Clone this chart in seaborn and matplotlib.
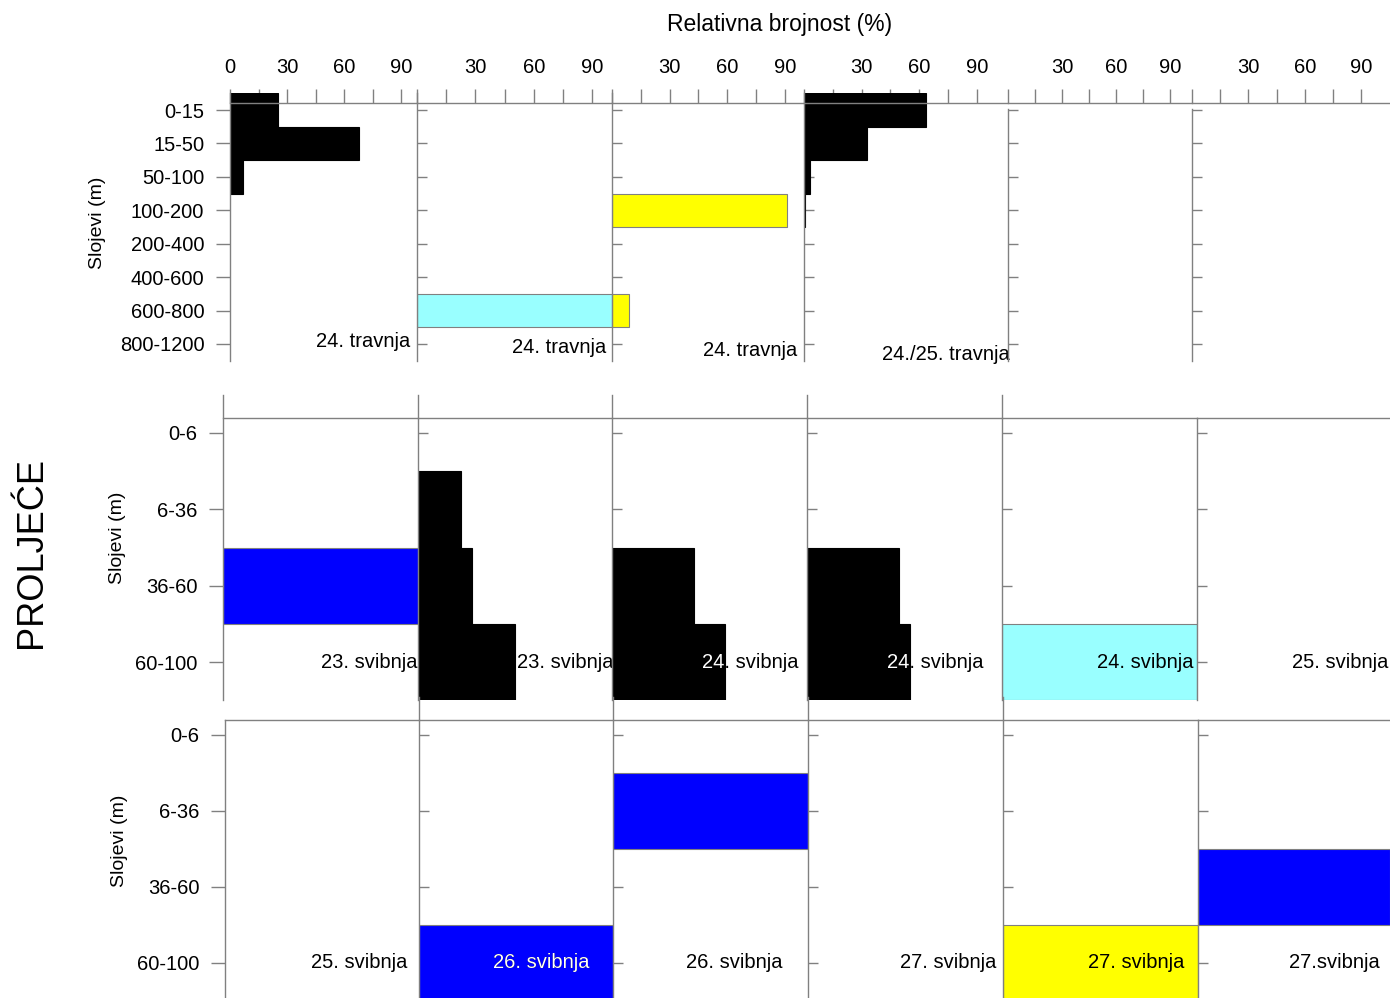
import matplotlib
matplotlib.use("Agg")
import matplotlib.pyplot as plt
import seaborn as sns

# ---- data -------------------------------------------------------------
top_layers = ["0-15", "15-50", "50-100", "100-200", "200-400", "400-600", "600-800", "800-1200"]
low_layers = ["0-6", "6-36", "36-60", "60-100"]

top_dates = ["24. travnja", "24. travnja", "24. travnja", "24./25. travnja", "", ""]
top_colors = ["black", "#99ffff", "#ffff00", "black", "white", "white"]
top_values = [
    [25, 68, 7, 0, 0, 0, 0, 0],
    [0, 0, 0, 0, 0, 0, 100, 0],
    [0, 0, 0, 91, 0, 0, 9, 0],
    [63.5, 33, 3, 0.5, 0, 0, 0, 0],
    [0, 0, 0, 0, 0, 0, 0, 0],
    [0, 0, 0, 0, 0, 0, 0, 0],
]

mid_dates = ["23. svibnja", "23. svibnja", "24. svibnja", "24. svibnja", "24. svibnja", "25. svibnja"]
mid_colors = ["#0000ff", "black", "black", "black", "#99ffff", "white"]
mid_values = [
    [0, 0, 100, 0],
    [0, 22, 28, 50],
    [0, 0, 42, 58],
    [0, 0, 47, 53],
    [0, 0, 0, 100],
    [0, 0, 0, 0],
]

bot_dates = ["25. svibnja", "26. svibnja", "26. svibnja", "27. svibnja", "27. svibnja", "27.svibnja"]
bot_colors = ["white", "#0000ff", "#0000ff", "white", "#ffff00", "#0000ff"]
bot_values = [
    [0, 0, 0, 0],
    [0, 0, 0, 100],
    [0, 100, 0, 0],
    [0, 0, 0, 0],
    [0, 0, 0, 100],
    [0, 0, 100, 0],
]

# ---- layout (pixels) ---------------------------------------------------
W, H = 1390, 998
GRAY = "#808080"
FS = 14.5

sns.set_theme(style="white")
plt.rcParams["font.family"] = ["Liberation Sans", "DejaVu Sans"]
plt.rcParams["text.color"] = "black"
plt.rcParams["xtick.labelcolor"] = "black"
plt.rcParams["ytick.labelcolor"] = "black"

fig = plt.figure(figsize=(W / 100, H / 100), dpi=100)


def px_axes(left, top, width, height):
    return fig.add_axes([left / W, 1 - (top + height) / H, width / W, height / H])


def draw_panel(ax, layers, values, color, first, ylim, spine_top=None):
    edge = "black" if color == "black" else GRAY
    sns.barplot(x=values, y=layers, orient="h", color=color, width=1,
                saturation=1, errorbar=None, edgecolor=edge, linewidth=0.8, ax=ax)
    for p in ax.patches:
        if p.get_width() == 0:
            p.set_linewidth(0)
    ax.set_ylim(*ylim)
    ax.set_facecolor("none")
    ax.set_xlabel("")
    ax.set_ylabel("")
    for s in ("right", "bottom"):
        ax.spines[s].set_visible(False)
    for s in ("left", "top"):
        ax.spines[s].set_color(GRAY)
        ax.spines[s].set_linewidth(1)
    ax.spines["top"].set_position(("data", -0.2))
    if spine_top is not None:
        ax.spines["left"].set_bounds(ylim[0], spine_top)
    ax.tick_params(axis="y", direction="out" if first else "in",
                   length=10 if first else 7, color=GRAY, width=1,
                   pad=8.5, labelsize=FS, labelleft=first, left=True)


def add_date(ax, text, x, y, dark_color):
    if not text:
        return
    ax.text(x, y, text, ha="right", va="center", fontsize=FS, color="black", clip_on=False)
    if dark_color:
        # the part of the label lying on a dark bar is drawn white
        for p in ax.patches:
            if p.get_width() > 0:
                t = ax.text(x, y, text, ha="right", va="center", fontsize=FS,
                            color="white", clip_on=True)
                t.set_clip_path(p)


DARK = ("black", "#0000ff")

# top row
ppp = [1.9, 1.95, 1.92, 1.92, 1.92, 1.92]
origin_px = [230, 417, 612, 804, 996, 1188]
spine_px = [230, 417, 612, 804, 1008, 1192, 1390]
top_label_pos = [(94.7, 6.94), (96.9, 7.12), (96.4, 7.18), (107.3, 7.3), (0, 0), (0, 0)]
for i in range(6):
    ax = px_axes(spine_px[i], 93.3, spine_px[i + 1] - spine_px[i], 267.4)
    draw_panel(ax, top_layers, top_values[i], top_colors[i], i == 0, (7.5, -0.5),
               spine_top=-0.03 if i >= 4 else None)
    ax.set_xlim((spine_px[i] - origin_px[i]) / ppp[i], (spine_px[i + 1] - origin_px[i]) / ppp[i])
    ax.xaxis.tick_top()
    ax.set_xticks([0, 30, 60, 90])
    ax.set_xticklabels(["0" if i == 0 else "", "30", "60", "90"])
    ax.set_xticks([15, 45, 75], minor=True)
    ax.tick_params(axis="x", which="both", direction="out", length=10, width=1,
                   color=GRAY, pad=9, labelsize=FS, top=True, bottom=False)
    add_date(ax, top_dates[i], *top_label_pos[i], top_colors[i] in DARK)

# middle row
mid_left = [223, 418, 612, 807, 1002, 1197, 1390]
mid_label_x = [99.5, 101, 95.4, 90.3, 98, 99]
for i in range(6):
    ax = px_axes(mid_left[i], 394.8, mid_left[i + 1] - mid_left[i], 305.4)
    draw_panel(ax, low_layers, mid_values[i], mid_colors[i], i == 0, (3.5, -0.5),
               spine_top=-0.2 if i == 5 else None)
    ax.set_xlim(0, 100)
    ax.set_xticks([])
    add_date(ax, mid_dates[i], mid_label_x[i], 3.0, mid_colors[i] in DARK)

# bottom row
bot_left = [225, 419, 613, 808, 1003, 1198, 1390]
bot_label_x = [93.8, 88.1, 86.7, 96.4, 92.8, 94.8]
for i in range(6):
    ax = px_axes(bot_left[i], 697, bot_left[i + 1] - bot_left[i], 304)
    draw_panel(ax, low_layers, bot_values[i], bot_colors[i], i == 0, (3.5, -0.5),
               spine_top=-0.2 if i in (0, 5) else None)
    ax.set_xlim(0, 100)
    ax.set_xticks([])
    add_date(ax, bot_dates[i], bot_label_x[i], 3.0, bot_colors[i] in DARK)

# labels
fig.text(780 / W, 1 - 24 / H, "Relativna brojnost (%)", ha="center", va="center", fontsize=16.5)
for xp, yp in [(97, 223), (118, 538), (119, 841)]:
    fig.text(xp / W, 1 - yp / H, "Slojevi (m)", rotation=90, ha="center", va="center", fontsize=14)
fig.text(32 / W, 1 - 553 / H, "PROLJEĆE", rotation=90, ha="center", va="center", fontsize=26)

fig.savefig("out.png", dpi=100)
